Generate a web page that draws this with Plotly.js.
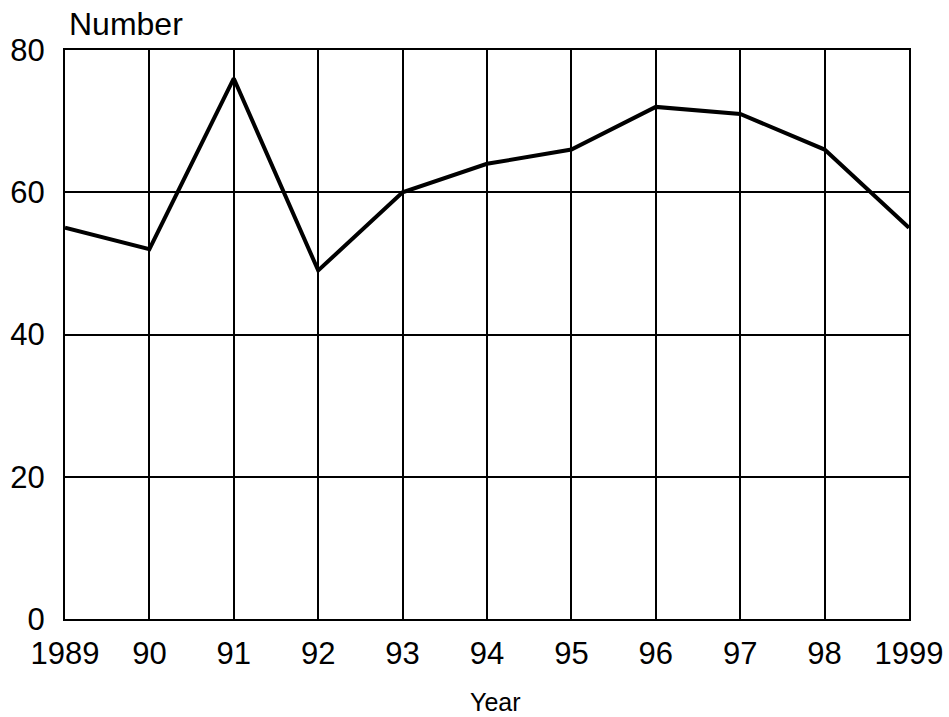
<!DOCTYPE html>
<html>
<head>
<meta charset="utf-8">
<script src="https://cdn.plot.ly/plotly-3.0.1.min.js"></script>
<style>html,body{margin:0;padding:0;background:#fff;}#chart{width:949px;height:717px;}</style>
</head>
<body>
<div id="chart"></div>
<script>
const years = [1989, 1990, 1991, 1992, 1993, 1994, 1995, 1996, 1997, 1998, 1999];
const yearLabels = ["1989", "90", "91", "92", "93", "94", "95", "96", "97", "98", "1999"];
const numbers = [55, 52, 76, 49, 60, 64, 66, 72, 71, 66, 55];
const yTicks = [0, 20, 40, 60, 80];

const FONT = '"Liberation Sans", Arial, sans-serif';

const trace = {
  x: years,
  y: numbers,
  type: 'scatter',
  mode: 'lines',
  line: {color: '#000', width: 4},
  hoverinfo: 'skip'
};

const layout = {
  width: 949,
  height: 717,
  margin: {l: 65, r: 40, t: 50, b: 98},
  paper_bgcolor: '#fff',
  plot_bgcolor: '#fff',
  showlegend: false,
  font: {family: FONT, color: '#000', size: 31},
  xaxis: {
    range: [1989, 1999],
    tickvals: years,
    ticktext: yearLabels,
    showgrid: true,
    gridcolor: '#000',
    gridwidth: 2,
    zeroline: false,
    showline: true,
    linecolor: '#000',
    linewidth: 2,
    mirror: true,
    ticks: 'outside',
    ticklen: 6,
    tickcolor: 'rgba(0,0,0,0)',
    tickfont: {family: FONT, size: 31, color: '#000'},
    fixedrange: true
  },
  yaxis: {
    range: [0, 80],
    tickvals: yTicks,
    ticktext: yTicks.map(String),
    showgrid: true,
    gridcolor: '#000',
    gridwidth: 2,
    zeroline: false,
    showline: true,
    linecolor: '#000',
    linewidth: 2,
    mirror: true,
    ticks: 'outside',
    ticklen: 12,
    tickcolor: 'rgba(0,0,0,0)',
    tickfont: {family: FONT, size: 31, color: '#000'},
    fixedrange: true
  },
  annotations: [
    {
      text: 'Number',
      xref: 'paper', yref: 'paper',
      x: 0, y: 1,
      xanchor: 'left', yanchor: 'bottom',
      xshift: 2, yshift: 6,
      showarrow: false,
      font: {family: FONT, size: 32, color: '#000'}
    },
    {
      text: 'Year',
      xref: 'paper', yref: 'paper',
      x: 0.51, y: 0,
      xanchor: 'center', yanchor: 'middle',
      yshift: -83,
      showarrow: false,
      font: {family: FONT, size: 25, color: '#000'}
    }
  ]
};

Plotly.newPlot('chart', [trace], layout, {displayModeBar: false, staticPlot: true});
</script>
</body>
</html>
